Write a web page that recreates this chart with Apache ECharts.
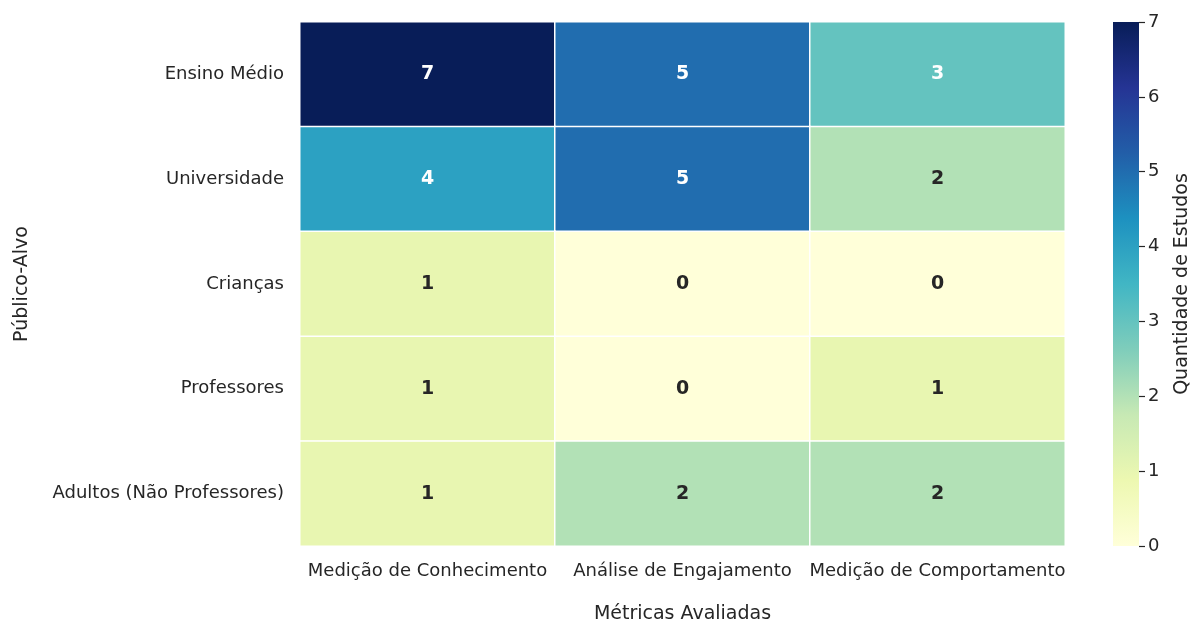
<!DOCTYPE html>
<html>
<head>
<meta charset="utf-8">
<title>Heatmap</title>
<script src="https://cdn.jsdelivr.net/npm/echarts@6/dist/echarts.min.js"></script>
<style>
  body { margin: 0; background: #fff; }
  #main { width: 1192px; height: 621px; }
</style>
</head>
<body>
<div id="main"></div>
<script>
var metricas = ['Medição de Conhecimento', 'Análise de Engajamento', 'Medição de Comportamento'];
var publico = ['Ensino Médio', 'Universidade', 'Crianças', 'Professores', 'Adultos (Não Professores)'];
// uma linha por público-alvo, colunas na ordem de metricas
var contagens = [
  [7, 5, 3],
  [4, 5, 2],
  [1, 0, 0],
  [1, 0, 1],
  [1, 2, 2]
];
var escalaTicks = [0, 1, 2, 3, 4, 5, 6, 7];
var ylgnbu = ['#ffffd9', '#edf8b1', '#c7e9b4', '#7fcdbb', '#41b6c4', '#1d91c0', '#225ea8', '#253494', '#081d58'];

var fonte = 'DejaVu Sans';
var texto = '#262626';

var dados = [];
for (var i = 0; i < publico.length; i++) {
  for (var j = 0; j < metricas.length; j++) {
    var v = contagens[i][j];
    dados.push({
      value: [j, i, v],
      label: { color: v >= 3 ? '#ffffff' : texto }
    });
  }
}

var stops = ylgnbu.map(function (c, k) {
  return { offset: k / (ylgnbu.length - 1), color: c };
});

var chart = echarts.init(document.getElementById('main'));
var option = {
  backgroundColor: '#fff',
  animation: false,
  textStyle: { fontFamily: fonte },
  grid: [
    { left: 300, top: 22, width: 765, height: 524, outerBoundsMode: 'none', containLabel: false },
    { left: 1113, top: 22, width: 26, height: 524, outerBoundsMode: 'none', containLabel: false }
  ],
  xAxis: [{
    type: 'category',
    gridIndex: 0,
    data: metricas,
    position: 'bottom',
    name: 'Métricas Avaliadas',
    nameLocation: 'middle',
    nameGap: 59,
    nameTextStyle: { fontSize: 19, color: texto, fontFamily: fonte },
    axisLine: { show: false },
    axisTick: { show: false },
    splitLine: { show: false },
    axisLabel: { fontSize: 18, color: texto, margin: 16, interval: 0, fontFamily: fonte }
  }, {
    type: 'category',
    gridIndex: 1,
    data: ['c'],
    show: false
  }],
  yAxis: [{
    type: 'category',
    gridIndex: 0,
    data: publico,
    inverse: true,
    name: 'Público-Alvo',
    nameLocation: 'middle',
    nameGap: 268,
    nameTextStyle: { fontSize: 19, color: texto, fontFamily: fonte },
    axisLine: { show: false },
    axisTick: { show: false },
    splitLine: { show: false },
    axisLabel: { fontSize: 18, color: texto, margin: 16, interval: 0, fontFamily: fonte }
  }, {
    type: 'value',
    gridIndex: 1,
    position: 'right',
    min: 0,
    max: 7,
    interval: 1,
    name: 'Quantidade de Estudos',
    nameLocation: 'middle',
    nameGap: 34,
    nameTextStyle: { fontSize: 19, color: texto, fontFamily: fonte },
    axisLine: { show: false },
    axisTick: { show: true, length: 6, lineStyle: { color: texto, width: 1.2 } },
    splitLine: { show: false },
    axisLabel: {
      fontSize: 18, color: texto, margin: 9, fontFamily: fonte,
      formatter: function (v) { return escalaTicks.indexOf(v) >= 0 ? String(v) : ''; }
    }
  }],
  visualMap: {
    show: false,
    seriesIndex: 0,
    min: 0,
    max: 7,
    dimension: 2,
    inRange: { color: ylgnbu }
  },
  series: [{
    type: 'heatmap',
    xAxisIndex: 0,
    yAxisIndex: 0,
    data: dados,
    label: {
      show: true,
      fontSize: 19,
      fontWeight: 'bold',
      fontFamily: fonte,
      formatter: function (p) { return p.value[2]; }
    },
    itemStyle: { borderColor: '#ffffff', borderWidth: 1.5 },
    emphasis: { disabled: true }
  }, {
    type: 'bar',
    xAxisIndex: 1,
    yAxisIndex: 1,
    data: [escalaTicks[escalaTicks.length - 1]],
    barWidth: '100%',
    silent: true,
    itemStyle: { color: new echarts.graphic.LinearGradient(0, 1, 0, 0, stops) }
  }]
};
chart.setOption(option);
</script>
</body>
</html>
